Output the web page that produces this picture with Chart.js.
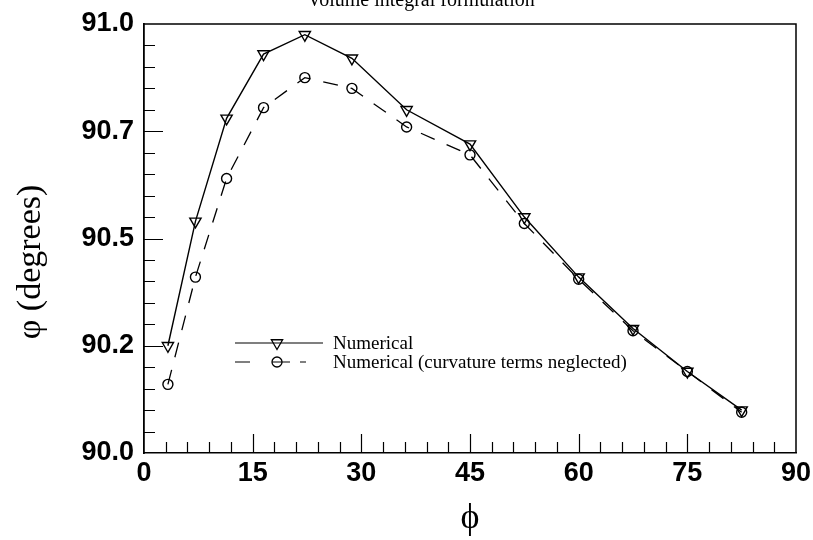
<!DOCTYPE html>
<html><head><meta charset="utf-8">
<script src="https://cdn.jsdelivr.net/npm/chart.js@4.4.1/dist/chart.umd.min.js"></script>
<style>html,body{margin:0;padding:0;background:#fff}#wrap{width:813px;height:540px;position:relative}</style>
</head><body><div id="wrap"><canvas id="c" width="813" height="540"></canvas></div>
<script>
// ---- data ----
const phiValues = [3.3, 7.1, 11.4, 16.5, 22.2, 28.7, 36.25, 45, 52.5, 60, 67.5, 75, 82.5];
const numerical = [90.25, 90.54, 90.78, 90.93, 90.975, 90.92, 90.80, 90.72, 90.55, 90.41, 90.29, 90.19, 90.10];
const neglected = [90.16, 90.41, 90.64, 90.805, 90.875, 90.85, 90.76, 90.695, 90.535, 90.405, 90.285, 90.19, 90.095];
const seriesLabels = ["Numerical", "Numerical (curvature terms neglected)"];
const xTickValues = [0, 15, 30, 45, 60, 75, 90];
const xTickLabels = ["0", "15", "30", "45", "60", "75", "90"];
const yTickValues = [90, 90.25, 90.5, 90.75, 91];
const yTickLabels = ["90.0", "90.2", "90.5", "90.7", "91.0"];
const xAxisTitle = "\u03D5";
const yAxisTitle = "\u03C6 (degrees)";
const topCaption = "Volume integral formulation";

const serif = '"Liberation Serif", "Times New Roman", serif';
const sans = '"Liberation Sans", Arial, sans-serif';

const decor = {
  id: 'decor',
  afterDraw(chart) {
    const { ctx, chartArea: a, scales: { x, y } } = chart;
    ctx.save();
    ctx.strokeStyle = '#000';
    ctx.fillStyle = '#000';
    // frame top & right
    ctx.lineWidth = 1.5;
    ctx.beginPath();
    ctx.moveTo(a.left, a.top); ctx.lineTo(a.right, a.top); ctx.lineTo(a.right, a.bottom);
    ctx.stroke();
    // inward ticks
    ctx.lineWidth = 1.2;
    ctx.beginPath();
    for (let i = 1; i < 30; i++) {
      const v = i * 3, px = Math.round(x.getPixelForValue(v)) + 0.5;
      const len = (i % 5 === 0) ? 19 : 11;
      ctx.moveTo(px, a.bottom); ctx.lineTo(px, a.bottom - len);
    }
    for (let i = 1; i < 20; i++) {
      const v = 90 + i * 0.05, py = Math.round(y.getPixelForValue(v)) + 0.5;
      const len = (i % 5 === 0) ? 19 : 11;
      ctx.moveTo(a.left, py); ctx.lineTo(a.left + len, py);
    }
    ctx.stroke();
    // axis titles
    ctx.textAlign = 'center'; ctx.textBaseline = 'middle';
    ctx.font = '36px ' + serif;
    ctx.fillText(xAxisTitle, (a.left + a.right) / 2, 519);
    ctx.save();
    ctx.translate(31, 262); ctx.rotate(-Math.PI / 2);
    ctx.font = '34px ' + serif;
    ctx.fillText(yAxisTitle, 0, 0);
    ctx.restore();
    // clipped caption at top
    ctx.font = '20px ' + serif;
    ctx.textBaseline = 'alphabetic';
    ctx.fillText(topCaption, 421, 6);
    // legend
    const ds = chart.data.datasets;
    const lx0 = 235, lx1 = 323, mx = 277, tx = 333;
    const rows = [343, 362];
    ctx.textAlign = 'left'; ctx.textBaseline = 'middle';
    ctx.font = '19px ' + serif;
    ds.forEach((d, i) => {
      const ry = rows[i];
      ctx.lineWidth = 1.2;
      ctx.setLineDash(i === 0 ? [] : [15, 22, 18, 10, 6, 100]);
      ctx.beginPath(); ctx.moveTo(lx0, ry); ctx.lineTo(lx1, ry); ctx.stroke();
      ctx.setLineDash([]);
      ctx.save();
      ctx.fillStyle = 'rgba(0,0,0,0)';
      ctx.strokeStyle = '#000';
      ctx.lineWidth = 1.3;
      Chart.helpers.drawPoint(ctx, { pointStyle: d.pointStyle, rotation: d.pointRotation || 0, radius: d.pointRadius, borderWidth: 1.3 }, mx, ry);
      ctx.restore();
      ctx.fillStyle = '#000';
      ctx.fillText(d.label, tx, ry + 1);
    });
    ctx.restore();
  }
};

const pts = (ys) => phiValues.map((v, i) => ({ x: v, y: ys[i] }));

new Chart(document.getElementById('c'), {
  type: 'line',
  data: {
    datasets: [
      {
        label: seriesLabels[0], data: pts(numerical),
        borderColor: '#000', borderWidth: 1.4, backgroundColor: 'rgba(0,0,0,0)',
        pointStyle: 'triangle', pointRotation: 180, pointRadius: 6.5,
        pointBorderColor: '#000', pointBackgroundColor: 'rgba(0,0,0,0)', pointBorderWidth: 1.4,
        tension: 0, fill: false
      },
      {
        label: seriesLabels[1], data: pts(neglected),
        borderColor: '#000', borderWidth: 1.3, borderDash: [15, 13], backgroundColor: 'rgba(0,0,0,0)',
        pointStyle: 'circle', pointRadius: 5, pointBorderColor: '#000',
        pointBackgroundColor: 'rgba(0,0,0,0)', pointBorderWidth: 1.4,
        tension: 0, fill: false
      }
    ]
  },
  options: {
    responsive: false, animation: false, devicePixelRatio: 1,
    layout: { padding: { left: 0, top: 24, right: 17, bottom: 0 } },
    plugins: { legend: { display: false }, tooltip: { enabled: false }, title: { display: false } },
    scales: {
      x: {
        type: 'linear', min: 0, max: 90,
        afterFit: s => { s.height = 87; s.paddingLeft = 0; s.paddingRight = 0; },
        afterBuildTicks: s => { s.ticks = xTickValues.map(v => ({ value: v })); },
        ticks: { color: '#000', font: { family: sans, size: 27, weight: 'bold' }, padding: 4, maxRotation: 0, autoSkip: false,
          callback: v => xTickLabels[xTickValues.indexOf(v)] },
        grid: { display: false, drawTicks: false },
        border: { display: true, color: '#000', width: 1.5 }
      },
      y: {
        type: 'linear', min: 90, max: 91,
        afterFit: s => { s.width = 144; s.paddingTop = 0; s.paddingBottom = 0; },
        afterBuildTicks: s => { s.ticks = yTickValues.map(v => ({ value: v })); },
        ticks: { color: '#000', font: { family: sans, size: 27, weight: 'bold' }, padding: 10, autoSkip: false,
          callback: v => yTickLabels[yTickValues.indexOf(v)] },
        grid: { display: false, drawTicks: false },
        border: { display: true, color: '#000', width: 1.8 }
      }
    }
  },
  plugins: [decor]
});
</script>
</body></html>
